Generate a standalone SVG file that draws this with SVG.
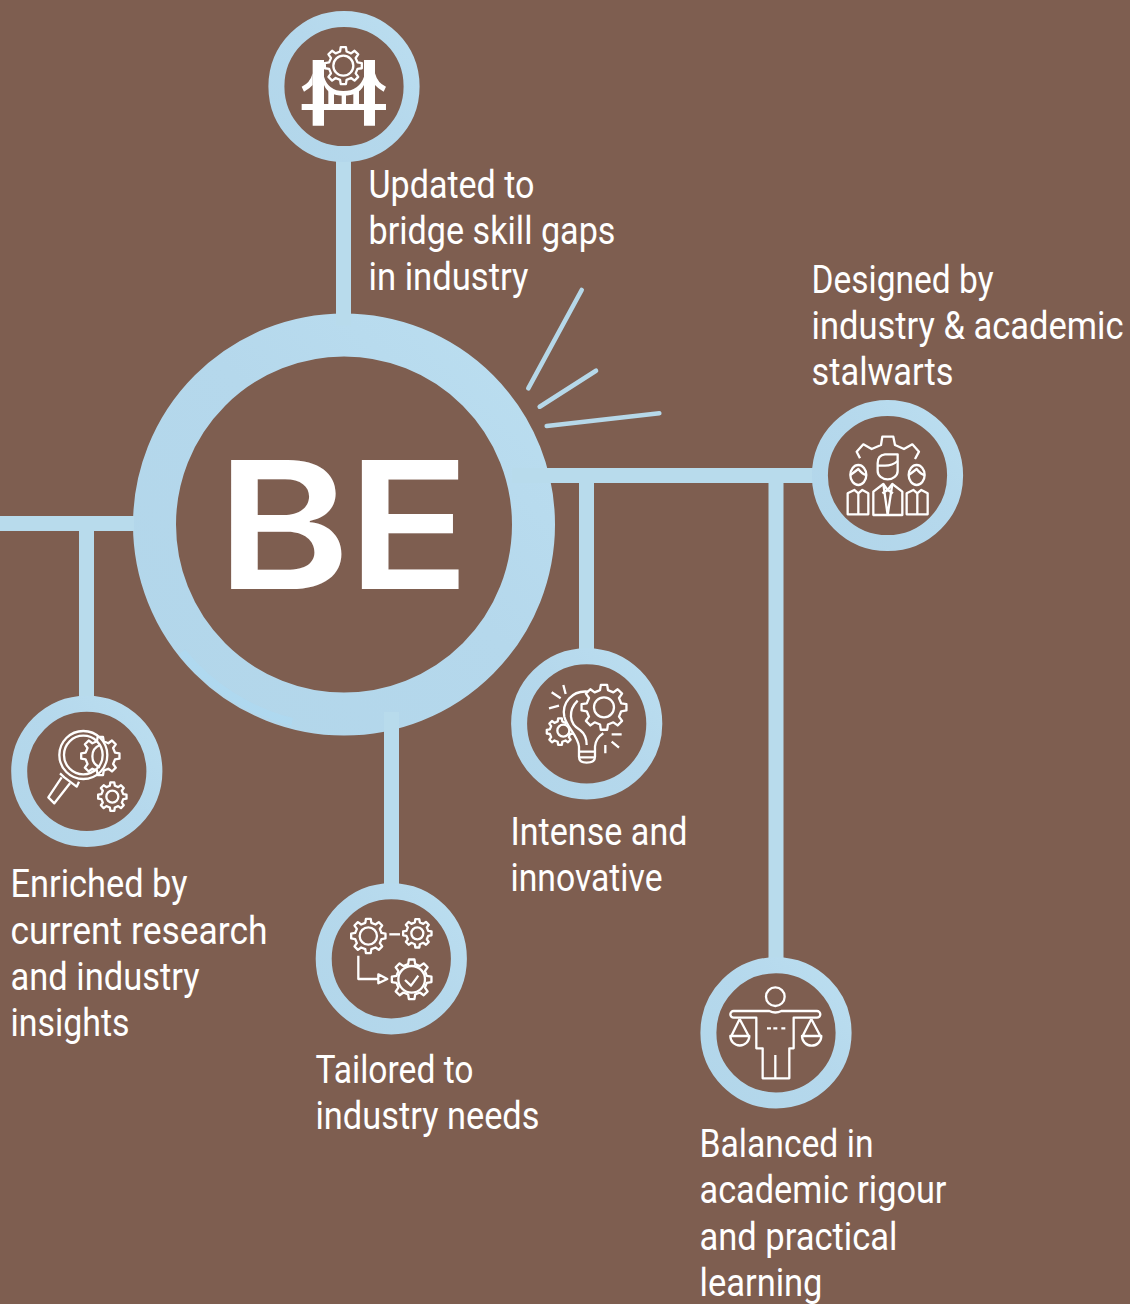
<svg xmlns="http://www.w3.org/2000/svg" xmlns:xlink="http://www.w3.org/1999/xlink" width="1130" height="1304" viewBox="0 0 1130 1304">
<style>
.ring{fill:none;stroke:url(#ringTone)}
.bar{fill:none;stroke:#b8dbec;stroke-width:15}
.ray{fill:none;stroke:#b6d8e9;stroke-width:4.6;stroke-linecap:round}
.lbl{font-family:Roboto,"Liberation Sans",sans-serif;font-size:38px;font-weight:400;fill:#fff}
.ic{fill:none;stroke:#fff;stroke-width:2.3;stroke-linejoin:round;stroke-linecap:butt}
.ic *{vector-effect:non-scaling-stroke}
.bg{fill:#7e5e50}
.solid{fill:#fff;stroke:none}
.slot{fill:#7e5e50;stroke:none}
</style>
<defs>
<linearGradient id="ringTone" x1="0" y1="1" x2="1" y2="0">
<stop offset="0" stop-color="#b2d6ea"/>
<stop offset=".55" stop-color="#b5d8ec"/>
<stop offset="1" stop-color="#bbdef0"/>
</linearGradient>
<path id="gear" vector-effect="non-scaling-stroke" d="M76,-17.5L99,-13.9L99,13.9L76,17.5L66.1,41.3L79.9,60.2L60.2,79.9L41.3,66.1L17.5,76L13.9,99L-13.9,99L-17.5,76L-41.3,66.1L-60.2,79.9L-79.9,60.2L-66.1,41.3L-76,17.5L-99,13.9L-99,-13.9L-76,-17.5L-66.1,-41.3L-79.9,-60.2L-60.2,-79.9L-41.3,-66.1L-17.5,-76L-13.9,-99L13.9,-99L17.5,-76L41.3,-66.1L60.2,-79.9L79.9,-60.2L66.1,-41.3Z"/>
</defs>
<rect width="1130" height="1304" fill="#7e5e50"/>
<g id="node-be">
<circle class="ring" cx="344" cy="524.500" r="189.500" stroke-width="43"/>
<path d="M182 652A206 206 0 0 0 292 722" fill="none" stroke="#aadcf8" stroke-width="8" opacity=".4"/>
<text transform="translate(216.200 589) scale(1.15 1)" x="0 113.700" y="0" font-family="Inter,Liberation Sans,sans-serif" font-size="177" font-weight="600" fill="#fff">BE</text>
</g>
<g id="connectors">
<path class="bar" d="M343.500 150V325.500"/>
<path class="bar" d="M512 475.500H820"/>
<path class="bar" d="M586.500 483V655"/>
<path class="bar" d="M776 483V965"/>
<path class="bar" d="M0 523.500H134"/>
<path class="bar" d="M86.500 531V702"/>
<path class="bar" d="M391.500 712V890"/>
<path class="ray" d="M581.700 290L528.300 388.300"/>
<path class="ray" d="M596 370.700L539.700 406.700"/>
<path class="ray" d="M659.300 413.300L546.700 426"/>
</g>
<g id="node-updated">
<circle class="ring" cx="344" cy="86.500" r="67.600" stroke-width="16"/>
<g class="ic" transform="translate(260 5) scale(.3333)">
<path class="solid" d="M158 165H192V297H312V165H345V297H378V315H345V362H312V315H192V362H158V315H125V297H158Z"/>
<path class="solid" d="M158 205Q150 235 125 245L132 260Q150 250 158 240Z"/>
<path class="solid" d="M345 205Q353 235 378 245L371 260Q353 250 345 240Z"/>
<path class="slot" d="M192 235Q205 262 250 266Q295 262 312 235V297H192Z"/>
<path class="solid" d="M192 215Q205 258 250 258Q297 258 312 215V240Q297 272 250 272Q205 272 192 240Z"/>
<path class="solid" d="M205 255H222V297H205ZM245 265H258V297H245ZM280 255H297V297H280Z"/>
<use xlink:href="#gear" class="bg" transform="translate(250 182) scale(.56)"/>
<circle cx="250" cy="182" r="30"/>
</g>
<text class="lbl" x="368.500" y="197.500" textLength="166" lengthAdjust="spacingAndGlyphs">Updated to</text>
<text class="lbl" x="368.500" y="243.500" textLength="247" lengthAdjust="spacingAndGlyphs">bridge skill gaps</text>
<text class="lbl" x="368.500" y="289.500" textLength="160" lengthAdjust="spacingAndGlyphs">in industry</text>
</g>
<g id="node-designed">
<circle class="ring" cx="887.500" cy="475.500" r="67.600" stroke-width="16"/>
<g class="ic" transform="translate(805 395) scale(.3333)">
<path d="M165 190L155 170L175 148L200 162L228 150L232 125L265 125L270 150L297 162L322 148L342 170L330 192"/>
<path d="M218 205V228A30 25 0 0 0 278 228V178H240Q218 180 218 205Z"/>
<path d="M218 212H240Q262 212 278 198"/>
<path d="M205 360V290L235 267L248 285L262 267L292 290V360Z"/>
<path d="M235 267L248 360M262 267L248 360M232 295L248 285L264 295"/>
<ellipse cx="160" cy="240" rx="24" ry="30"/>
<path d="M136 240Q150 230 160 222Q172 238 184 240"/>
<path d="M128 358V295L148 285L160 295L172 285L190 295V358ZM160 295V358"/>
<ellipse cx="335" cy="240" rx="24" ry="30"/>
<path d="M311 240Q325 230 335 222Q347 238 359 240"/>
<path d="M305 358V295L325 285L337 295L349 285L368 295V358ZM337 295V358"/>
</g>
<text class="lbl" x="811.500" y="293" textLength="182" lengthAdjust="spacingAndGlyphs">Designed by</text>
<text class="lbl" x="811.500" y="339" textLength="312" lengthAdjust="spacingAndGlyphs">industry &amp; academic</text>
<text class="lbl" x="811.500" y="385" textLength="142" lengthAdjust="spacingAndGlyphs">stalwarts</text>
</g>
<g id="node-intense">
<circle class="ring" cx="586.700" cy="723.800" r="67.600" stroke-width="16"/>
<g class="ic" transform="translate(505 640) scale(.3333)">
<use xlink:href="#gear" class="bg" transform="translate(165 275) scale(.4)"/>
<circle cx="175" cy="272" r="18"/>
<path class="bg" d="M250 155C200 150 170 190 178 230C185 260 220 290 222 320V350Q222 368 245 368Q270 368 270 350V320Q272 295 295 280"/>
<path d="M218 182C190 210 190 250 225 270Q245 285 245 315M222 335H270M222 352H270"/>
<use xlink:href="#gear" class="bg" transform="translate(297 202) scale(.68)"/>
<circle cx="297" cy="202" r="30"/>
<path d="M175 135L182 162M140 157L167 175M132 205L162 197M320 283H350M320 305L342 323M301 315V340"/>
</g>
<text class="lbl" x="510.500" y="845" textLength="177" lengthAdjust="spacingAndGlyphs">Intense and</text>
<text class="lbl" x="510.500" y="891" textLength="152" lengthAdjust="spacingAndGlyphs">innovative</text>
</g>
<g id="node-enriched">
<circle class="ring" cx="86.800" cy="771.300" r="67.600" stroke-width="16"/>
<g class="ic" transform="translate(5 690) scale(.3333)">
<use xlink:href="#gear" transform="translate(286 198) scale(.58)"/>
<path d="M285 165A36 36 0 0 0 285 232"/>
<circle cx="235" cy="195" r="72"/>
<circle cx="235" cy="195" r="58"/>
<path d="M170 262L130 322L148 340L195 280M165 250L178 262L215 290L222 275"/>
<use xlink:href="#gear" transform="translate(322 320) scale(.43)"/>
<circle cx="322" cy="320" r="18"/>
</g>
<text class="lbl" x="10.500" y="897" textLength="177" lengthAdjust="spacingAndGlyphs">Enriched by</text>
<text class="lbl" x="10.500" y="943.500" textLength="257" lengthAdjust="spacingAndGlyphs">current research</text>
<text class="lbl" x="10.500" y="989.500" textLength="189" lengthAdjust="spacingAndGlyphs">and industry</text>
<text class="lbl" x="10.500" y="1035.500" textLength="119" lengthAdjust="spacingAndGlyphs">insights</text>
</g>
<g id="node-tailored">
<circle class="ring" cx="391.300" cy="958.800" r="67.600" stroke-width="16"/>
<g class="ic" transform="translate(310 875) scale(.3333)">
<use xlink:href="#gear" transform="translate(175 183) scale(.52)"/>
<circle cx="175" cy="183" r="26"/>
<path d="M238 178H270"/>
<use xlink:href="#gear" transform="translate(322 175) scale(.43)"/>
<circle cx="322" cy="175" r="18"/>
<path d="M145 242V312H205"/>
<path d="M205 298L232 312L205 325Z"/>
<use xlink:href="#gear" transform="translate(305 313) scale(.6)"/>
<circle cx="305" cy="313" r="40"/>
<path d="M285 315L303 332L325 302"/>
</g>
<text class="lbl" x="315.500" y="1083" textLength="158" lengthAdjust="spacingAndGlyphs">Tailored to</text>
<text class="lbl" x="315.500" y="1129" textLength="224" lengthAdjust="spacingAndGlyphs">industry needs</text>
</g>
<g id="node-balanced">
<circle class="ring" cx="776" cy="1032.800" r="67.600" stroke-width="16"/>
<g class="ic" transform="translate(692 950) scale(.3333)">
<circle cx="250" cy="140" r="28"/>
<path d="M125 183H232Q250 192 268 183H375A10 10 0 0 1 375 203H305V295H292V385H212V295H193V203H125A10 10 0 0 1 125 183Z"/>
<path d="M250 315V385M225 235H237M244 235H256M268 235H280"/>
<path d="M143 207L118 258M143 207L170 258M115 258H172A28 28 0 0 1 115 258Z"/>
<path d="M358 207L332 258M358 207L385 258M330 258H388A28 28 0 0 1 330 258Z"/>
</g>
<text class="lbl" x="699.500" y="1156.500" textLength="174" lengthAdjust="spacingAndGlyphs">Balanced in</text>
<text class="lbl" x="699.500" y="1203" textLength="247" lengthAdjust="spacingAndGlyphs">academic rigour</text>
<text class="lbl" x="699.500" y="1249.500" textLength="198" lengthAdjust="spacingAndGlyphs">and practical</text>
<text class="lbl" x="699.500" y="1295.500" textLength="123" lengthAdjust="spacingAndGlyphs">learning</text>
</g>
</svg>
